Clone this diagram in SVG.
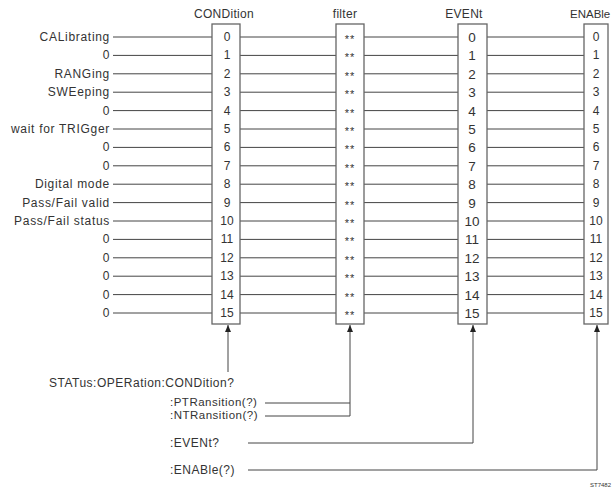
<svg xmlns="http://www.w3.org/2000/svg" width="613" height="495" viewBox="0 0 613 495">
<defs>
<style>
text{font-family:"Liberation Sans",Arial,sans-serif;fill:#333;}
.lbl{font-size:12px;letter-spacing:0.7px;text-anchor:end;}
.hdr{font-size:12px;letter-spacing:0.3px;text-anchor:middle;}
.cmd{font-size:12px;letter-spacing:0.5px;}
.num{font-size:12px;text-anchor:middle;}
.evn{font-size:13.5px;text-anchor:middle;}
.flt{font-size:11px;text-anchor:middle;letter-spacing:1px;}
.box{fill:#fff;stroke:#666;stroke-width:1.3;}
.ln{fill:none;stroke:#444;stroke-width:1;}
.tag{font-size:6px;}
</style>
<marker id="ah" viewBox="0 0 7 6" refX="7" refY="3" markerWidth="7" markerHeight="6" orient="auto" markerUnits="userSpaceOnUse">
<path d="M0 0L7 3L0 6Z" fill="#222"/>
</marker>
</defs>
<rect width="613" height="495" fill="#fff"/>

<g id="connectors">
<path class="ln" d="M113 37H212M113 55.4H212M113 73.8H212M113 92.2H212M113 110.6H212M113 129H212M113 147.4H212M113 165.8H212M113 184.2H212M113 202.6H212M113 221H212M113 239.4H212M113 257.8H212M113 276.2H212M113 294.6H212M113 313H212"/>
<path class="ln" d="M240 37H336M240 55.4H336M240 73.8H336M240 92.2H336M240 110.6H336M240 129H336M240 147.4H336M240 165.8H336M240 184.2H336M240 202.6H336M240 221H336M240 239.4H336M240 257.8H336M240 276.2H336M240 294.6H336M240 313H336"/>
<path class="ln" d="M364 37H458M364 55.4H458M364 73.8H458M364 92.2H458M364 110.6H458M364 129H458M364 147.4H458M364 165.8H458M364 184.2H458M364 202.6H458M364 221H458M364 239.4H458M364 257.8H458M364 276.2H458M364 294.6H458M364 313H458"/>
<path class="ln" d="M487 37H584M487 55.4H584M487 73.8H584M487 92.2H584M487 110.6H584M487 129H584M487 147.4H584M487 165.8H584M487 184.2H584M487 202.6H584M487 221H584M487 239.4H584M487 257.8H584M487 276.2H584M487 294.6H584M487 313H584"/>
<path class="ln" d="M228 372V325" marker-end="url(#ah)"/>
<path class="ln" d="M265 403H350"/>
<path class="ln" d="M265 416H350V325" marker-end="url(#ah)"/>
<path class="ln" d="M248 443H473V325" marker-end="url(#ah)"/>
<path class="ln" d="M248 470H597V325" marker-end="url(#ah)"/>
</g>

<g id="inputs">
<text class="lbl" x="110" y="41">CALibrating</text>
<text class="lbl" x="110" y="59.4">0</text>
<text class="lbl" x="110" y="77.8">RANGing</text>
<text class="lbl" x="110" y="96.2">SWEeping</text>
<text class="lbl" x="110" y="114.6">0</text>
<text class="lbl" x="110" y="133">wait for TRIGger</text>
<text class="lbl" x="110" y="151.4">0</text>
<text class="lbl" x="110" y="169.8">0</text>
<text class="lbl" x="110" y="188.2">Digital mode</text>
<text class="lbl" x="110" y="206.6">Pass/Fail valid</text>
<text class="lbl" x="110" y="225">Pass/Fail status</text>
<text class="lbl" x="110" y="243.4">0</text>
<text class="lbl" x="110" y="261.8">0</text>
<text class="lbl" x="110" y="280.2">0</text>
<text class="lbl" x="110" y="298.6">0</text>
<text class="lbl" x="110" y="317">0</text>
</g>

<g id="condition">
<text class="hdr" x="224" y="18">CONDition</text>
<rect class="box" x="212" y="24" width="28" height="300"/>
<text class="num" x="227" y="41">0</text>
<text class="num" x="227" y="59.4">1</text>
<text class="num" x="227" y="77.8">2</text>
<text class="num" x="227" y="96.2">3</text>
<text class="num" x="227" y="114.6">4</text>
<text class="num" x="227" y="133">5</text>
<text class="num" x="227" y="151.4">6</text>
<text class="num" x="227" y="169.8">7</text>
<text class="num" x="227" y="188.2">8</text>
<text class="num" x="227" y="206.6">9</text>
<text class="num" x="227" y="225">10</text>
<text class="num" x="227" y="243.4">11</text>
<text class="num" x="227" y="261.8">12</text>
<text class="num" x="227" y="280.2">13</text>
<text class="num" x="227" y="298.6">14</text>
<text class="num" x="227" y="317">15</text>
</g>

<g id="filter">
<text class="hdr" x="345" y="18">filter</text>
<rect class="box" x="336" y="24" width="28" height="300"/>
<text class="flt" x="350" y="43">**</text>
<text class="flt" x="350" y="61.4">**</text>
<text class="flt" x="350" y="79.8">**</text>
<text class="flt" x="350" y="98.2">**</text>
<text class="flt" x="350" y="116.6">**</text>
<text class="flt" x="350" y="135">**</text>
<text class="flt" x="350" y="153.4">**</text>
<text class="flt" x="350" y="171.8">**</text>
<text class="flt" x="350" y="190.2">**</text>
<text class="flt" x="350" y="208.6">**</text>
<text class="flt" x="350" y="227">**</text>
<text class="flt" x="350" y="245.4">**</text>
<text class="flt" x="350" y="263.8">**</text>
<text class="flt" x="350" y="282.2">**</text>
<text class="flt" x="350" y="300.6">**</text>
<text class="flt" x="350" y="319">**</text>
</g>

<g id="event">
<text class="hdr" x="464" y="18">EVENt</text>
<rect class="box" x="458" y="24" width="29" height="300"/>
<text class="evn" x="472" y="42">0</text>
<text class="evn" x="472" y="60.4">1</text>
<text class="evn" x="472" y="78.8">2</text>
<text class="evn" x="472" y="97.2">3</text>
<text class="evn" x="472" y="115.6">4</text>
<text class="evn" x="472" y="134">5</text>
<text class="evn" x="472" y="152.4">6</text>
<text class="evn" x="472" y="170.8">7</text>
<text class="evn" x="472" y="189.2">8</text>
<text class="evn" x="472" y="207.6">9</text>
<text class="evn" x="472" y="226">10</text>
<text class="evn" x="472" y="244.4">11</text>
<text class="evn" x="472" y="262.8">12</text>
<text class="evn" x="472" y="281.2">13</text>
<text class="evn" x="472" y="299.6">14</text>
<text class="evn" x="472" y="318">15</text>
</g>

<g id="enable">
<text class="hdr" x="570" y="18" style="text-anchor:start;font-size:11.5px;letter-spacing:0">ENABle</text>
<rect class="box" x="584" y="24" width="24" height="300"/>
<text class="num" x="596" y="41">0</text>
<text class="num" x="596" y="59.4">1</text>
<text class="num" x="596" y="77.8">2</text>
<text class="num" x="596" y="96.2">3</text>
<text class="num" x="596" y="114.6">4</text>
<text class="num" x="596" y="133">5</text>
<text class="num" x="596" y="151.4">6</text>
<text class="num" x="596" y="169.8">7</text>
<text class="num" x="596" y="188.2">8</text>
<text class="num" x="596" y="206.6">9</text>
<text class="num" x="596" y="225">10</text>
<text class="num" x="596" y="243.4">11</text>
<text class="num" x="596" y="261.8">12</text>
<text class="num" x="596" y="280.2">13</text>
<text class="num" x="596" y="298.6">14</text>
<text class="num" x="596" y="317">15</text>
</g>

<g id="commands">
<text class="cmd" x="49" y="387">STATus:OPERation:CONDition?</text>
<text class="cmd" x="170" y="406" style="font-size:11.5px">:PTRansition(?)</text>
<text class="cmd" x="170" y="419" style="font-size:11.5px">:NTRansition(?)</text>
<text class="cmd" x="170" y="447">:EVENt?</text>
<text class="cmd" x="170" y="474">:ENABle(?)</text>
<text class="tag" x="590" y="487">ST7482</text>
</g>
</svg>
